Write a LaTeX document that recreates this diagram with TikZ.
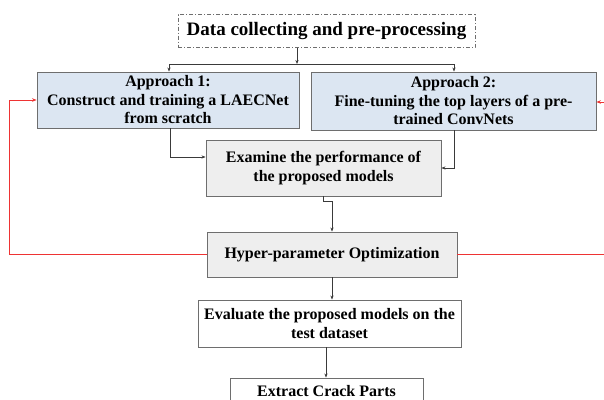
\documentclass[tikz,border=0pt]{standalone}
\usepackage{fontspec}
\setmainfont{Liberation Serif}
\usetikzlibrary{arrows.meta,shadows}
\definecolor{boxblue}{HTML}{DCE6F2}
\definecolor{boxgray}{HTML}{EEEEEE}
\definecolor{edgegray}{HTML}{6E6E6E}
\definecolor{linkgray}{HTML}{3A3A3A}
\definecolor{loopred}{HTML}{EE3333}
\tikzset{
  x=1pt, y=-1pt,
  box/.style={draw=edgegray, line width=0.9pt, align=center, inner sep=0pt,
    font=\bfseries\fontsize{16}{18.5}\selectfont, text=black},
  bluebox/.style={box, fill=boxblue,
    drop shadow={shadow xshift=1pt, shadow yshift=-1pt, fill=gray!40, opacity=0.6}},
  graybox/.style={box, fill=boxgray,
    drop shadow={shadow xshift=1.2pt, shadow yshift=-1.2pt, fill=gray!50, opacity=0.6}},
  whitebox/.style={box, fill=white},
  link/.style={draw=linkgray, line width=0.8pt, -{Stealth[length=4pt,width=3.2pt]}},
  plain/.style={draw=linkgray, line width=0.8pt},
  loop/.style={draw=loopred, line width=0.9pt, -{Stealth[length=4.5pt,width=3.5pt]}},
}
\begin{document}
\begin{tikzpicture}
\useasboundingbox (0,0) rectangle (604,399);
\clip (0,0) rectangle (604,399);

% stage boxes
\node[box, fill=white, dashed, dash pattern=on 4pt off 2pt on 1pt off 2pt,
      minimum width=297pt, minimum height=33pt,
      font=\bfseries\fontsize{19}{22}\selectfont] (data) at (326.5,31) {Data collecting and pre-processing};
\node[bluebox, minimum width=262pt, minimum height=56pt] (app1) at (168,100)
  {Approach 1:\\Construct and training a LAECNet\\from scratch};
\node[bluebox, minimum width=285pt, minimum height=58pt] (app2) at (453.5,101)
  {Approach 2:\\Fine-tuning the top layers of a pre-\\trained ConvNets};
\node[graybox, minimum width=235pt, minimum height=56pt] (exam) at (323.5,168)
  {Examine the performance of\\the proposed models};
\node[graybox, minimum width=250pt, minimum height=45pt] (hyper) at (332,254.5)
  {Hyper-parameter Optimization};
\node[whitebox, minimum width=263pt, minimum height=47pt] (eval) at (329.5,323.5)
  {Evaluate the proposed models on the\\test dataset};
\node[whitebox, minimum width=193pt, minimum height=26pt] (crack) at (326.5,391)
  {Extract Crack Parts};

% split from data to both approaches
\coordinate (dsrc) at (297,47.5);
\coordinate (split) at (297,64);
\coordinate (sl) at (169,64);
\coordinate (sr) at (454,64);
\draw[link] (dsrc) -- (split);
\draw[plain] (sl) -- (sr);
\draw[link] (sl) -- (sl |- app1.north);
\draw[link] (sr) -- (sr |- app2.north);

% approaches into the examination step
\coordinate (a1out) at (170,128);
\coordinate (a2out) at (454,130);
\coordinate (e1in) at (0,157);
\coordinate (e2in) at (0,168);
\draw[link] (a1out) |- (exam.west |- e1in);
\draw[link] (a2out) |- (exam.east |- e2in);

% examination to optimisation, with a small jog
\coordinate (eout) at (323,196);
\coordinate (jog1) at (323,201);
\coordinate (jog2) at (332,201);
\draw[link] (eout) -- (jog1) -- (jog2) -- (jog2 |- hyper.north);

% optimisation to evaluation and extraction
\coordinate (hout) at (332,277);
\coordinate (vout) at (326,347);
\draw[link] (hout) -- (hout |- eval.north);
\draw[link] (vout) -- (vout |- crack.north);

% feedback loops
\coordinate (lc1) at (9,254.5);
\coordinate (lc2) at (9,100);
\coordinate (rc1) at (612,254.5);
\coordinate (rc2) at (612,102);
\draw[loop] (hyper.west) -- (lc1) -- (lc2) -- (app1.west |- lc2);
\draw[loop] (hyper.east) -- (rc1) -- (rc2) -- (app2.east |- rc2);
\end{tikzpicture}
\end{document}
